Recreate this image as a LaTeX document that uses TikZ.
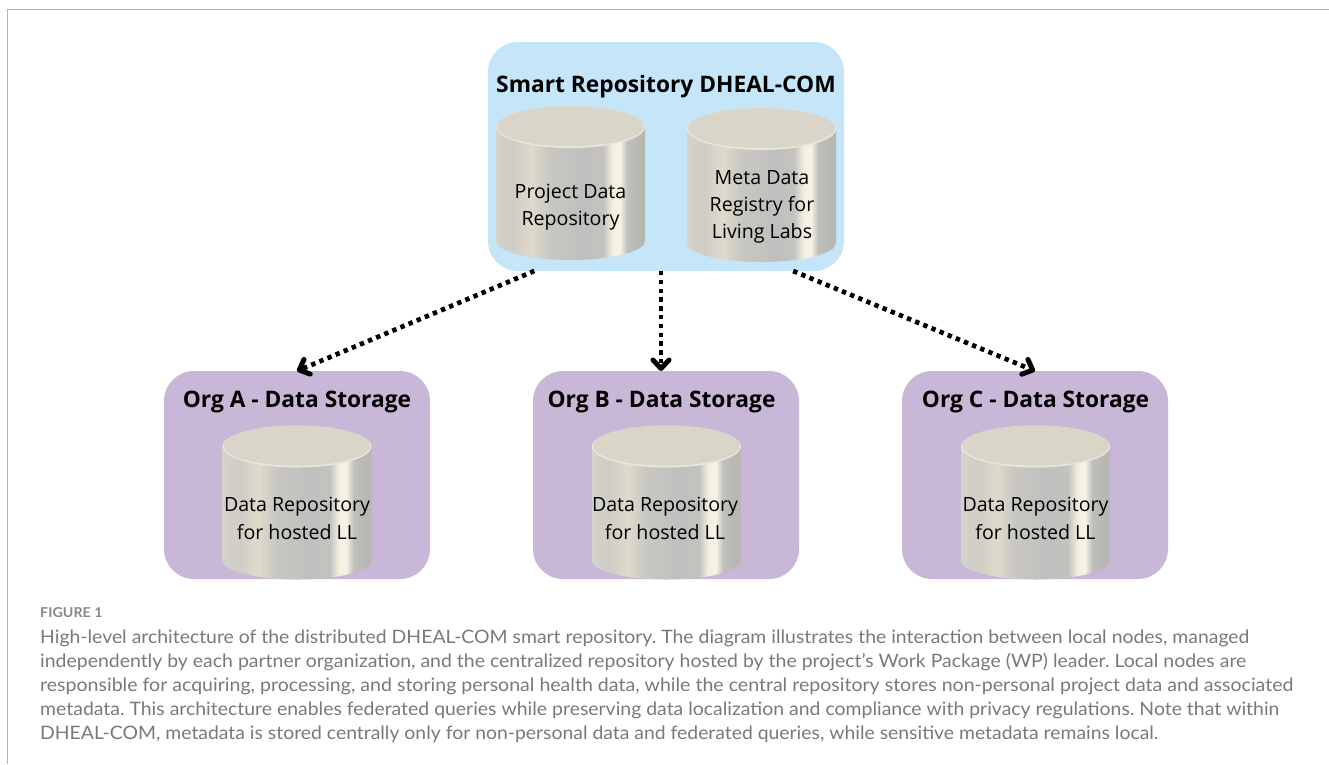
\documentclass[tikz,border=0pt]{standalone}
\usepackage{fontspec}
\setmainfont{Open Sans}
\newfontfamily\capfont[FakeStretch=1.05]{Lato}
\frenchspacing
\usetikzlibrary{arrows.meta}
\definecolor{cylA}{HTML}{D4D3CC}
\definecolor{cylB}{HTML}{B7B7B3}
\definecolor{cylC}{HTML}{CFCDC5}
\definecolor{cylD}{HTML}{DFDACB}
\definecolor{cylE}{HTML}{C8C7C2}
\definecolor{cylF}{HTML}{BFBFBE}
\definecolor{cylG}{HTML}{C4C3BE}
\definecolor{cylH}{HTML}{F3EFDF}
\definecolor{cylI}{HTML}{F8F4E6}
\pgfdeclarehorizontalshading{cylbody}{100bp}{
 color(0bp)=(cylA);
 color(25bp)=(cylA);
 color(31bp)=(cylC);
 color(37bp)=(cylD);
 color(43bp)=(cylE);
 color(55bp)=(cylF);
 color(61bp)=(cylG);
 color(64bp)=(cylH);
 color(66.5bp)=(cylI);
 color(69bp)=(cylF);
 color(73bp)=(cylB);
 color(75bp)=(cylB);
 color(100bp)=(cylB)}
\definecolor{repoblue}{HTML}{C5E5F8}
\definecolor{orgpurple}{HTML}{C9B7D8}
\definecolor{captext}{HTML}{767A7F}
\definecolor{capfig}{HTML}{85898E}
\definecolor{framegray}{HTML}{B4B4B4}
\definecolor{cyltop}{HTML}{D9D5C9}
\definecolor{cylrim}{HTML}{E9E6DA}
\tikzset{
 panel/.style={rounded corners=30pt,minimum width=#1,minimum height=208pt,inner sep=0pt,outer sep=0pt},
 title/.style={font=\bfseries\fontsize{22.75}{26}\selectfont,text=black,inner sep=0pt},
 cyltext/.style={font=\fontsize{19.6}{27.3}\selectfont,align=center,text=black,inner sep=0pt},
 flow/.style={line width=4.7pt,dash pattern=on 4.4pt off 4.4pt,-{Straight Barb[length=8.5pt,width=16pt,line width=5pt,round]}},
 capline/.style={font=\capfont\fontsize{18.5}{20}\selectfont,text=captext,anchor=base west,inner sep=0pt},
 pics/db/.style={code={
   \shade[shading=cylbody] (-74.5,0) -- (-74.5,114)
     arc[start angle=180,end angle=0,x radius=74.5,y radius=19] -- (74.5,0) -- cycle;
   \fill[cylrim] (0,0) ellipse[x radius=74.5,y radius=21];
   \fill[cyltop] (0,-0.8) ellipse[x radius=73.5,y radius=20];
 }}
}
\begin{document}
\begin{tikzpicture}[x=1pt,y=-1pt]
\useasboundingbox (0,0) rectangle (1329,764);
\draw[framegray,line width=1pt] (1329,9) -- (7.5,9) -- (7.5,764);
\node[panel=356pt,minimum height=229pt,fill=repoblue] (repo) at (666,156.5) {};
\node[panel=266pt,fill=orgpurple] (orgA) at (297,475) {};
\node[panel=266pt,fill=orgpurple] (orgB) at (666,475) {};
\node[panel=266pt,fill=orgpurple] (orgC) at (1035,475) {};
\pic at (570.5,127) {db};
\pic at (761.5,129) {db};
\pic at (297,446.5) {db};
\pic at (666.5,446.5) {db};
\pic at (1035.5,446.5) {db};
\node[title] (repoT) at (666,87) {Smart Repository DHEAL-COM};
\node[title] (orgAT) at (297,401.5) {Org A - Data Storage};
\node[title] (orgBT) at (661.5,401.5) {Org B - Data Storage};
\node[title] (orgCT) at (1035.5,401.5) {Org C - Data Storage};
\node[cyltext] (t1) at (570.5,207) {Project Data\\Repository};
\node[cyltext] (t2) at (762,207) {Meta Data\\Registry for\\Living Labs};
\node[cyltext] (t3) at (297,518.5) {Data Repository\\for hosted LL};
\node[cyltext] (t4) at (665,518.5) {Data Repository\\for hosted LL};
\node[cyltext] (t5) at (1035.5,518.5) {Data Repository\\for hosted LL};
\draw[flow] (repo.221) -- (orgA.north);
\draw[flow] ([xshift=-5pt]repo.south) -- ([xshift=-5pt]orgB.north);
\draw[flow] (repo.-42) -- (orgC.north);
\node[font=\capfont\bfseries\fontsize{13.6}{15}\selectfont,text=capfig,anchor=base west,inner sep=0pt] (figlabel) at (40,617) {FIGURE 1};
\node[capline] (c1) at (40,643) {\resizebox{1209pt}{\height}{High-level architecture of the distributed DHEAL-COM smart repository. The diagram illustrates the interaction between local nodes, managed}};
\node[capline] (c2) at (40,667) {\resizebox{1206pt}{\height}{independently by each partner organization, and the centralized repository hosted by the project’s Work Package (WP) leader. Local nodes are}};
\node[capline] (c3) at (40,691) {\resizebox{1253pt}{\height}{responsible for acquiring, processing, and storing personal health data, while the central repository stores non-personal project data and associated}};
\node[capline] (c4) at (40,715) {\resizebox{1239pt}{\height}{metadata. This architecture enables federated queries while preserving data localization and compliance with privacy regulations. Note that within}};
\node[capline] (c5) at (40,739) {\resizebox{1118pt}{\height}{DHEAL-COM, metadata is stored centrally only for non-personal data and federated queries, while sensitive metadata remains local.}};
\end{tikzpicture}
\end{document}
